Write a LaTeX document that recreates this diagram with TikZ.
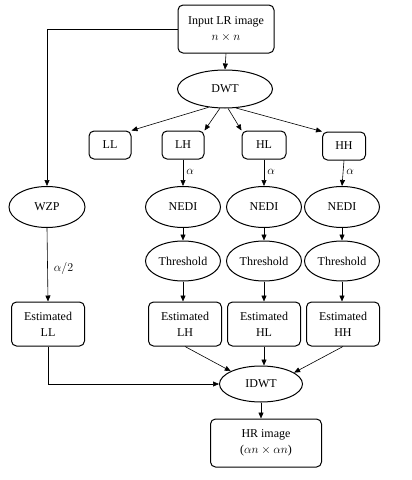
\documentclass[tikz,border=0pt]{standalone}
\usepackage{fontspec}
\setmainfont{Liberation Serif}
\usetikzlibrary{shapes.geometric,arrows.meta}
\begin{document}
\begin{tikzpicture}[x=1pt,y=-1pt,
  every node/.style={font=\fontsize{12}{16}\selectfont, align=center, inner sep=0pt},
  rbox/.style={draw, line width=1pt, rounded corners=5pt},
  ell/.style={draw, ellipse, line width=1pt},
  arr/.style={draw, line width=0.6pt, -{Triangle[length=6pt,width=5pt]}},
  lab/.style={font=\fontsize{12}{14}\selectfont}]
\useasboundingbox (0,0) rectangle (412,480);
% nodes
\node[rbox, minimum width=96pt, minimum height=48pt] (in) at (226,29) {Input LR image\\[0pt]$n\times n$};
\node[ell, minimum width=95pt, minimum height=38pt] (dwt) at (225,89) {DWT};
\node[rbox, minimum width=42pt, minimum height=28pt] (ll) at (110,145) {LL};
\node[rbox, minimum width=42pt, minimum height=28pt] (lh) at (183,145) {LH};
\node[rbox, minimum width=44pt, minimum height=28pt] (hl) at (264,145) {HL};
\node[rbox, minimum width=43pt, minimum height=28pt] (hh) at (344,146) {HH};
\node[ell, minimum width=76pt, minimum height=41pt] (wzp) at (47,207) {WZP};
\node[ell, minimum width=75pt, minimum height=41pt] (n1) at (183,207) {NEDI};
\node[ell, minimum width=75pt, minimum height=41pt] (n2) at (264,207) {NEDI};
\node[ell, minimum width=75pt, minimum height=41pt] (n3) at (342,207) {NEDI};
\node[ell, minimum width=75pt, minimum height=40pt] (t1) at (183,261) {Threshold};
\node[ell, minimum width=75pt, minimum height=40pt] (t2) at (264,261) {Threshold};
\node[ell, minimum width=75pt, minimum height=40pt] (t3) at (342,261) {Threshold};
\node[rbox, minimum width=73pt, minimum height=44pt] (ell) at (48,324) {Estimated\\LL};
\node[rbox, minimum width=73pt, minimum height=44pt] (elh) at (185,324) {Estimated\\LH};
\node[rbox, minimum width=73pt, minimum height=44pt] (ehl) at (264,324) {Estimated\\HL};
\node[rbox, minimum width=73pt, minimum height=44pt] (ehh) at (343,324) {Estimated\\HH};
\node[ell, minimum width=83pt, minimum height=36pt] (idwt) at (261,384) {IDWT};
\node[rbox, minimum width=111pt, minimum height=48pt] (hr) at (266,443) {HR image\\($\alpha n\times \alpha n$)};
% connectors
\draw[arr] (in.west) -| (wzp.north);
\draw[arr] (in.south) -- (dwt.north);
\draw[arr] (dwt.228) -- (ll.north east);
\draw[arr] (dwt.255) -- (lh.north east);
\draw[arr] (dwt.279) -- (hl.north west);
\draw[arr] (dwt.300) -- (hh.north west);
\draw[arr] (lh.south) -- node[lab, right=3pt, pos=0.45] {$\alpha$} (n1.north);
\draw[arr] (hl.south) -- node[lab, right=3pt, pos=0.45] {$\alpha$} (n2.north);
\draw[arr] (hh.south) -- node[lab, right=3pt, pos=0.45] {$\alpha$} (n3.north);
\draw[arr] (wzp.south) -- node[lab, right=6pt, pos=0.55] {$\alpha/2$} (ell.north);
\draw[arr] (n1) -- (t1);
\draw[arr] (n2) -- (t2);
\draw[arr] (n3) -- (t3);
\draw[arr] (t1.south) -- (t1.south |- elh.north);
\draw[arr] (t2) -- (ehl);
\draw[arr] (t3.south) -- (t3.south |- ehh.north);
\draw[arr] (ell.south) |- (idwt.west);
\draw[arr] (elh.south) -- (idwt.157);
\draw[arr] (ehl.south) -- (ehl.south |- idwt.north);
\draw[arr] (ehh.south) -- (idwt.19);
\draw[arr] (idwt.south) -- (idwt.south |- hr.north);
\end{tikzpicture}
\end{document}
